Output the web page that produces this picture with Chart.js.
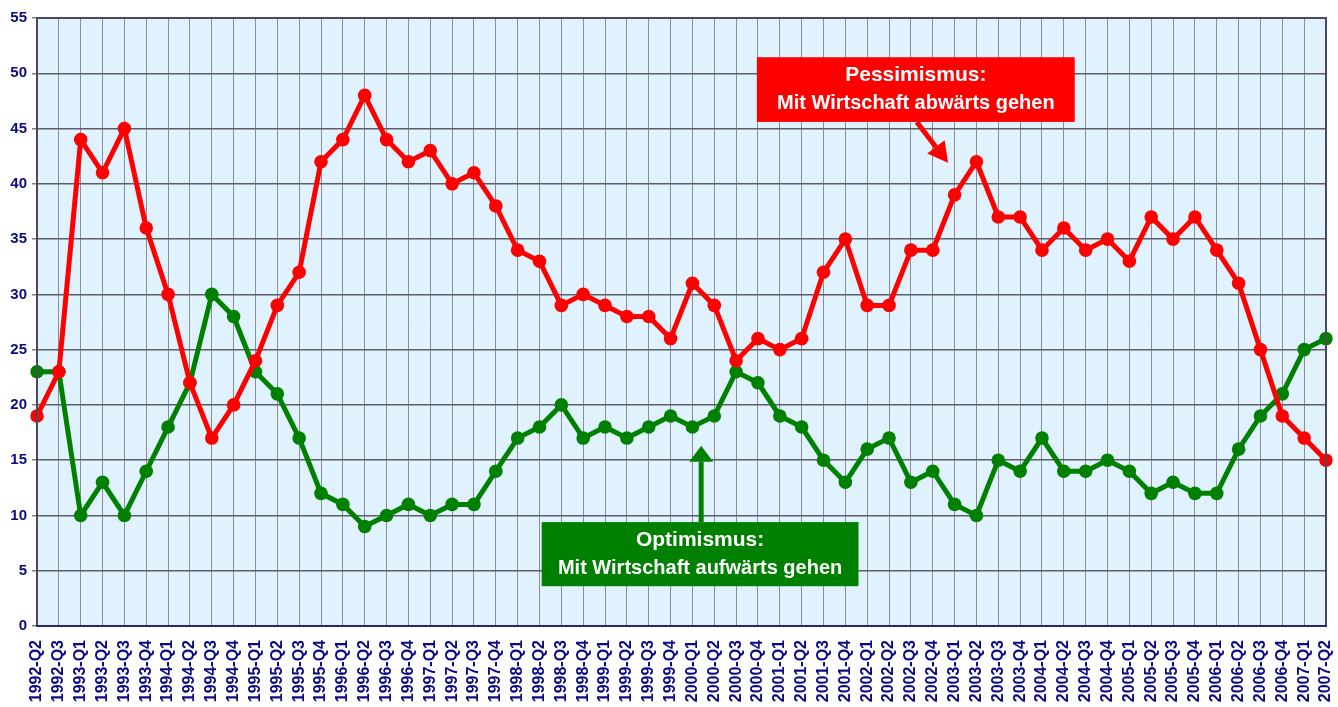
<!DOCTYPE html>
<html>
<head>
<meta charset="utf-8">
<script src="https://cdn.jsdelivr.net/npm/chart.js@4"></script>
<style>
  html, body { margin: 0; padding: 0; background: #ffffff; }
  #wrap { width: 1338px; height: 707px; position: relative; }
</style>
</head>
<body>
<div id="wrap"><canvas id="chart-konjunktur"></canvas></div>
<script>
// ─── Data ───
const quarters = [
  '1992-Q2','1992-Q3','1993-Q1','1993-Q2','1993-Q3','1993-Q4','1994-Q1','1994-Q2','1994-Q3','1994-Q4',
  '1995-Q1','1995-Q2','1995-Q3','1995-Q4','1996-Q1','1996-Q2','1996-Q3','1996-Q4','1997-Q1','1997-Q2',
  '1997-Q3','1997-Q4','1998-Q1','1998-Q2','1998-Q3','1998-Q4','1999-Q1','1999-Q2','1999-Q3','1999-Q4',
  '2000-Q1','2000-Q2','2000-Q3','2000-Q4','2001-Q1','2001-Q2','2001-Q3','2001-Q4','2002-Q1','2002-Q2',
  '2002-Q3','2002-Q4','2003-Q1','2003-Q2','2003-Q3','2003-Q4','2004-Q1','2004-Q2','2004-Q3','2004-Q4',
  '2005-Q1','2005-Q2','2005-Q3','2005-Q4','2006-Q1','2006-Q2','2006-Q3','2006-Q4','2007-Q1','2007-Q2'
];
const pessimismus = [
  19, 23, 44, 41, 45, 36, 30, 22, 17, 20,
  24, 29, 32, 42, 44, 48, 44, 42, 43, 40,
  41, 38, 34, 33, 29, 30, 29, 28, 28, 26,
  31, 29, 24, 26, 25, 26, 32, 35, 29, 29,
  34, 34, 39, 42, 37, 37, 34, 36, 34, 35,
  33, 37, 35, 37, 34, 31, 25, 19, 17, 15
];
const optimismus = [
  23, 23, 10, 13, 10, 14, 18, 22, 30, 28,
  23, 21, 17, 12, 11,  9, 10, 11, 10, 11,
  11, 14, 17, 18, 20, 17, 18, 17, 18, 19,
  18, 19, 23, 22, 19, 18, 15, 13, 16, 17,
  13, 14, 11, 10, 15, 14, 17, 14, 14, 15,
  14, 12, 13, 12, 12, 16, 19, 21, 25, 26
];
const yTicks = { min: 0, max: 55, step: 5 };

const RED = '#ff0000';
const GREEN = '#008000';
const NAVY = '#0a0a84';
const FONT = '"Liberation Sans", Arial, sans-serif';

// plot background + frame
const plotBackground = {
  id: 'plotBackground',
  beforeDraw(chart) {
    const { ctx, chartArea: a } = chart;
    ctx.save();
    ctx.fillStyle = '#dff2fd';
    ctx.fillRect(a.left, a.top, a.right - a.left, a.bottom - a.top);
    ctx.restore();
  },
  afterDraw(chart) {
    const { ctx, chartArea: a } = chart;
    ctx.save();
    ctx.strokeStyle = '#4a4a5a';
    ctx.lineWidth = 2;
    ctx.strokeRect(a.left, a.top, a.right - a.left, a.bottom - a.top);
    ctx.strokeStyle = '#2a2a6a';
    ctx.beginPath();
    ctx.moveTo(a.left - 1, a.bottom);
    ctx.lineTo(a.right + 1, a.bottom);
    ctx.stroke();
    ctx.restore();
  }
};

function arrow(ctx, x1, y1, x2, y2, color, shaft, headLen, headW) {
  const ang = Math.atan2(y2 - y1, x2 - x1);
  const bx = x2 - Math.cos(ang) * headLen;
  const by = y2 - Math.sin(ang) * headLen;
  ctx.strokeStyle = color;
  ctx.fillStyle = color;
  ctx.lineWidth = shaft;
  ctx.beginPath();
  ctx.moveTo(x1, y1);
  ctx.lineTo(bx, by);
  ctx.stroke();
  ctx.beginPath();
  ctx.moveTo(x2, y2);
  ctx.lineTo(bx + Math.sin(ang) * headW / 2, by - Math.cos(ang) * headW / 2);
  ctx.lineTo(bx - Math.sin(ang) * headW / 2, by + Math.cos(ang) * headW / 2);
  ctx.closePath();
  ctx.fill();
}

function labelBox(ctx, xs, ys, box, color, lines) {
  const l = xs.getPixelForValue(box.x0), r = xs.getPixelForValue(box.x1);
  const t = ys.getPixelForValue(box.y1), b = ys.getPixelForValue(box.y0);
  ctx.fillStyle = color;
  ctx.fillRect(l, t, r - l, b - t);
  ctx.fillStyle = '#ffffff';
  ctx.textAlign = 'center';
  ctx.textBaseline = 'middle';
  const cx = (l + r) / 2, cy = (t + b) / 2;
  ctx.font = 'bold 21px ' + FONT;
  ctx.fillText(lines[0], cx, cy - 14);
  ctx.font = 'bold 20px ' + FONT;
  ctx.fillText(lines[1], cx, cy + 14);
}

// text boxes with arrows, anchored in data space
const callouts = {
  id: 'callouts',
  afterDatasetsDraw(chart) {
    const { ctx } = chart;
    const xs = chart.scales.x, ys = chart.scales.y;
    ctx.save();
    // Pessimismus
    labelBox(ctx, xs, ys, { x0: 32.95, x1: 47.5, y0: 45.6, y1: 51.45 }, RED,
      ['Pessimismus:', 'Mit Wirtschaft abwärts gehen']);
    arrow(ctx, xs.getPixelForValue(40.27), ys.getPixelForValue(45.6),
      xs.getPixelForValue(41.7), ys.getPixelForValue(41.9), RED, 5, 20, 22);
    // Optimismus
    labelBox(ctx, xs, ys, { x0: 23.1, x1: 37.6, y0: 3.6, y1: 9.4 }, GREEN,
      ['Optimismus:', 'Mit Wirtschaft aufwärts gehen']);
    arrow(ctx, xs.getPixelForValue(30.4), ys.getPixelForValue(9.4),
      xs.getPixelForValue(30.4), ys.getPixelForValue(16.3), GREEN, 5, 16, 24);
    ctx.restore();
  }
};

const ctx = document.getElementById('chart-konjunktur');
new Chart(ctx, {
  type: 'line',
  data: {
    labels: quarters,
    datasets: [
      {
        label: 'Pessimismus',
        data: pessimismus,
        borderColor: RED,
        backgroundColor: RED,
        borderWidth: 5,
        pointRadius: 6.8,
        pointBorderWidth: 0,
        pointBackgroundColor: RED,
        tension: 0,
        order: 1,
      },
      {
        label: 'Optimismus',
        data: optimismus,
        borderColor: GREEN,
        backgroundColor: GREEN,
        borderWidth: 5,
        pointRadius: 6.8,
        pointBorderWidth: 0,
        pointBackgroundColor: GREEN,
        tension: 0,
        order: 2,
      }
    ]
  },
  options: {
    responsive: true,
    maintainAspectRatio: false,
    animation: false,
    layout: { padding: { top: 18, right: 12, left: 0, bottom: 0 } },
    plugins: {
      legend: { display: false },
      tooltip: { enabled: false }
    },
    scales: {
      x: {
        offset: false,
        afterFit: s => { s.height = 81; s.paddingRight = 0; s.paddingLeft = 0; },
        ticks: {
          color: NAVY,
          font: { size: 16, weight: 'bold', family: FONT },
          minRotation: 90,
          maxRotation: 90,
          autoSkip: false,
          padding: 14,
        },
        grid: { color: '#8c8c94', lineWidth: 1, drawTicks: false },
        border: { color: '#2a2a6a', width: 2 }
      },
      y: {
        min: yTicks.min,
        max: yTicks.max,
        afterFit: s => { s.width = 37; },
        ticks: {
          stepSize: yTicks.step,
          color: NAVY,
          font: { size: 15, weight: 'bold', family: FONT },
          padding: 5,
        },
        grid: { color: '#5e5e66', lineWidth: 1.5, tickLength: 5, tickColor: '#808080' },
        border: { color: '#4a4a5a', width: 2 }
      }
    }
  },
  plugins: [plotBackground, callouts]
});
</script>
</body>
</html>
